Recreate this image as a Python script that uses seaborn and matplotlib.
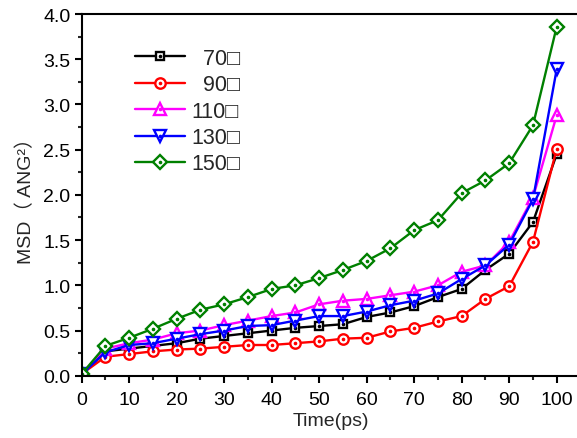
import numpy as np
import pandas as pd
import matplotlib
matplotlib.use("Agg")
import matplotlib.pyplot as plt
from matplotlib.legend_handler import HandlerTuple
from matplotlib.lines import Line2D
import seaborn as sns

# time axis (ps)
time_ps = [0, 5, 10, 15, 20, 25, 30, 35, 40, 45, 50,
           55, 60, 65, 70, 75, 80, 85, 90, 95, 100]

# MSD values
msd_70 = [0.02, 0.27, 0.30, 0.33, 0.36, 0.41, 0.44, 0.47, 0.50, 0.53, 0.55,
          0.57, 0.65, 0.70, 0.77, 0.87, 0.96, 1.17, 1.35, 1.70, 2.45]
msd_90 = [0.02, 0.21, 0.24, 0.27, 0.29, 0.30, 0.32, 0.34, 0.34, 0.36, 0.38,
          0.41, 0.42, 0.49, 0.53, 0.60, 0.66, 0.85, 0.99, 1.48, 2.51]
msd_110 = [0.02, 0.30, 0.36, 0.40, 0.47, 0.50, 0.56, 0.61, 0.66, 0.70, 0.79,
           0.83, 0.85, 0.89, 0.93, 1.00, 1.15, 1.22, 1.48, 1.97, 2.88]
msd_130 = [0.02, 0.26, 0.34, 0.36, 0.41, 0.46, 0.50, 0.55, 0.56, 0.61, 0.66,
           0.66, 0.71, 0.78, 0.83, 0.91, 1.07, 1.22, 1.45, 1.95, 3.39]
msd_150 = [0.02, 0.33, 0.42, 0.52, 0.63, 0.73, 0.79, 0.87, 0.96, 1.00, 1.08,
           1.17, 1.27, 1.41, 1.61, 1.72, 2.02, 2.16, 2.35, 2.77, 3.86]

labels = ["  70\u25a1", "  90\u25a1", "110\u25a1", "130\u25a1", "150\u25a1"]
colors = ["black", "red", "magenta", "blue", "green"]
markers = ["s", "o", "^", "v", "D"]
msizes = [6, 7.5, 8.5, 8.5, 7]

sns.set_style("ticks")
plt.rcParams['font.family'] = ['Liberation Sans', 'Noto Sans CJK SC', 'DejaVu Sans']

df = pd.DataFrame({"time": time_ps * 5,
                   "msd": msd_70 + msd_90 + msd_110 + msd_130 + msd_150,
                   "temp": sum([[lab] * len(time_ps) for lab in labels], [])})

fig = plt.figure(figsize=(5.77, 4.39), dpi=100)
ax = fig.add_axes([0.1416, 0.1418, 1.006 - 0.1416, 0.9658 - 0.1418])

handles = []
for lab, c, m, ms in zip(labels, colors, markers, msizes):
    sub = df[df["temp"] == lab]
    sns.lineplot(data=sub, x="time", y="msd", ax=ax, color=c, marker=m,
                 markersize=ms, markerfacecolor="white", markeredgecolor=c,
                 markeredgewidth=1.7, linewidth=1.7, legend=False)
    # small dot in the centre of each open marker
    ax.plot(sub["time"], sub["msd"], linestyle="none", marker="o",
            markersize=1.6, color=c)
    h_line = Line2D([], [], color=c, marker=m, markersize=ms,
                    markerfacecolor="white", markeredgecolor=c,
                    markeredgewidth=1.7, linewidth=1.7)
    h_dot = Line2D([], [], linestyle="none", marker="o", markersize=1.6, color=c)
    handles.append((h_line, h_dot))

ax.set_xlim(0, 105)
ax.set_ylim(0, 4.0)
ax.set_xticks(np.arange(0, 101, 10))
ax.set_xticks(np.arange(5, 101, 10), minor=True)
ax.set_yticks(np.arange(0, 4.01, 0.5))
ax.set_yticks(np.arange(0.25, 4.0, 0.5), minor=True)
ax.yaxis.set_major_formatter(matplotlib.ticker.FormatStrFormatter("%.1f"))
ax.tick_params(which="major", direction="out", length=5, width=1.5,
               labelsize=14, colors="black")
ax.tick_params(axis="x", which="major", pad=6)
ax.tick_params(axis="y", which="major", pad=3)
ax.tick_params(which="minor", direction="out", length=3, width=1.5)
for s in ax.spines.values():
    s.set_linewidth(1.5)
    s.set_color("black")

ax.set_xlabel("Time(ps)", fontsize=14, labelpad=3)
ax.set_ylabel("MSD\uff08 ANG\u00b2\uff09", fontsize=14, labelpad=6)

leg = ax.legend(handles, labels, loc="upper left", bbox_to_anchor=(0.09, 0.93),
                frameon=False, fontsize=15.5, handlelength=2.3,
                handletextpad=0.3, labelspacing=0.25, borderaxespad=0,
                handler_map={tuple: HandlerTuple(ndivide=1, pad=0)})

fig.savefig("out.png", dpi=100)
